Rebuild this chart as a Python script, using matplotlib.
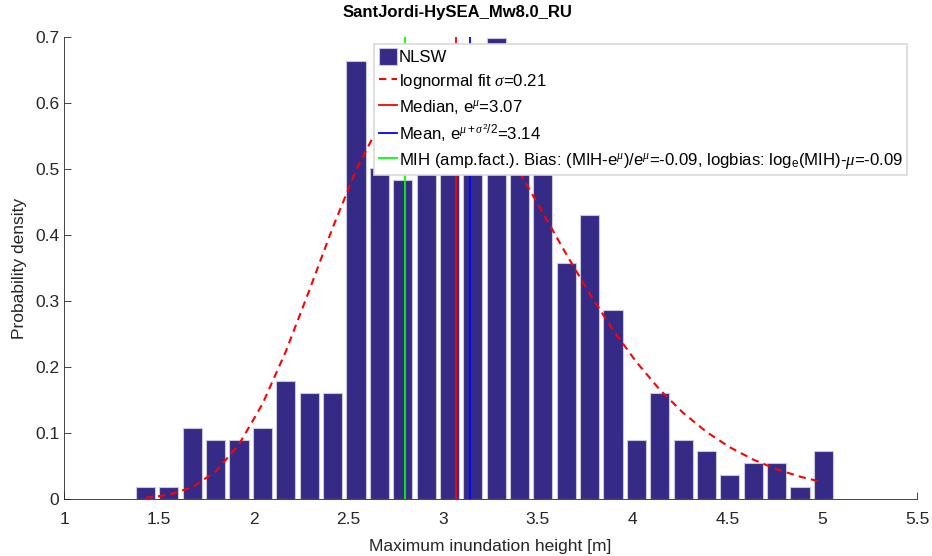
import matplotlib
matplotlib.use('Agg')
import matplotlib.pyplot as plt
import numpy as np

# histogram of maximum inundation height (bin centres, density)
bin_centers = [1.430, 1.553, 1.677, 1.800, 1.923, 2.047, 2.170, 2.293, 2.416, 2.540,
               2.663, 2.786, 2.910, 3.033, 3.156, 3.280, 3.403, 3.526, 3.649, 3.773,
               3.896, 4.019, 4.142, 4.266, 4.389, 4.512, 4.636, 4.759, 4.882, 5.005]
density = [0.018, 0.018, 0.107, 0.089, 0.089, 0.107, 0.179, 0.161, 0.161, 0.663,
           0.502, 0.484, 0.645, 0.627, 0.627, 0.699, 0.609, 0.645, 0.358, 0.430,
           0.287, 0.089, 0.161, 0.089, 0.072, 0.036, 0.054, 0.054, 0.018, 0.072]
bin_width = 0.1233

# lognormal fit evaluated at the bin centres
fit_pdf = [0.0018, 0.0063, 0.0179, 0.0417, 0.0827, 0.1441, 0.2236, 0.3155, 0.4102, 0.4978,
           0.5671, 0.6128, 0.6320, 0.6253, 0.5968, 0.5511, 0.4950, 0.4335, 0.3711, 0.3109,
           0.2561, 0.2076, 0.1658, 0.1305, 0.1017, 0.0784, 0.0597, 0.0451, 0.0339, 0.0253]

median_val = 3.07
mean_val = 3.14
mih_val = 2.80

x_ticks = [1, 1.5, 2, 2.5, 3, 3.5, 4, 4.5, 5, 5.5]
y_ticks = [0, 0.1, 0.2, 0.3, 0.4, 0.5, 0.6, 0.7]

plt.rcParams['font.family'] = ['Liberation Sans', 'DejaVu Sans']
plt.rcParams['mathtext.fontset'] = 'custom'
plt.rcParams['mathtext.rm'] = 'Liberation Sans'
plt.rcParams['mathtext.it'] = 'Liberation Serif:italic'

fig = plt.figure(figsize=(9.32, 5.56), dpi=100)
ax = fig.add_axes([0.0687, 0.1025, 0.9153, 0.831])

p1 = ax.bar(bin_centers, density, width=bin_width * 0.82, color='#352a86',
            edgecolor='#c8c8d8', linewidth=0.8, zorder=2)
p2, = ax.plot(bin_centers, fit_pdf, '--', color='red', linewidth=1.5, zorder=3,
              dashes=(3.5, 2.5))
p3, = ax.plot([median_val, median_val], [0, 0.7], '-', color='red', linewidth=1.3, zorder=3)
p4, = ax.plot([mean_val, mean_val], [0, 0.7], '-', color='blue', linewidth=1.3, zorder=3)
p5, = ax.plot([mih_val, mih_val], [0, 0.7], '-', color='#00ff00', linewidth=1.3, zorder=3)

ax.set_xlim(1, 5.5)
ax.set_ylim(0, 0.7)
ax.set_xticks(x_ticks)
ax.set_xticklabels(['1', '1.5', '2', '2.5', '3', '3.5', '4', '4.5', '5', '5.5'])
ax.set_yticks(y_ticks)
ax.set_yticklabels(['0', '0.1', '0.2', '0.3', '0.4', '0.5', '0.6', '0.7'])
ax.tick_params(direction='in', length=5, width=0.6, colors='#262626', labelsize=12.5)
ax.tick_params(axis='x', pad=9)
for side in ['top', 'right']:
    ax.spines[side].set_visible(False)
for side in ['left', 'bottom']:
    ax.spines[side].set_color('#262626')
    ax.spines[side].set_linewidth(0.6)

ax.set_xlabel('Maximum inundation height [m]', fontsize=12.5, color='#262626', labelpad=9)
ax.set_ylabel('Probability density', fontsize=12.5, color='#262626', labelpad=6)
ax.text(0.461, 1.054, 'SantJordi-HySEA_Mw8.0_RU', transform=ax.transAxes,
        ha='center', va='center', fontsize=12, fontweight='bold')

labels = ['NLSW',
          r'lognormal fit $\sigma$=0.21',
          r'Median, e$^{\mu}$=3.07',
          r'Mean, e$^{\mu+\sigma^2/2}$=3.14',
          r'MIH (amp.fact.). Bias: (MIH-e$^{\mu}$)/e$^{\mu}$=-0.09, logbias: log$_\mathrm{e}$(MIH)-$\mu$=-0.09']
leg = ax.legend([p1, p2, p3, p4, p5], labels, loc='upper left',
                bbox_to_anchor=(0.3638, 0.985), fontsize=12.1, frameon=True,
                fancybox=False, handlelength=1.1, handleheight=1.15, handletextpad=0.1,
                borderpad=0.25, labelspacing=0.4, borderaxespad=0)
leg.get_frame().set_edgecolor('#d9d9d9')
leg.get_frame().set_linewidth(1.2)
leg.get_frame().set_alpha(1.0)
leg.set_zorder(5)

fig.savefig('out.png', dpi=100, facecolor='white')
